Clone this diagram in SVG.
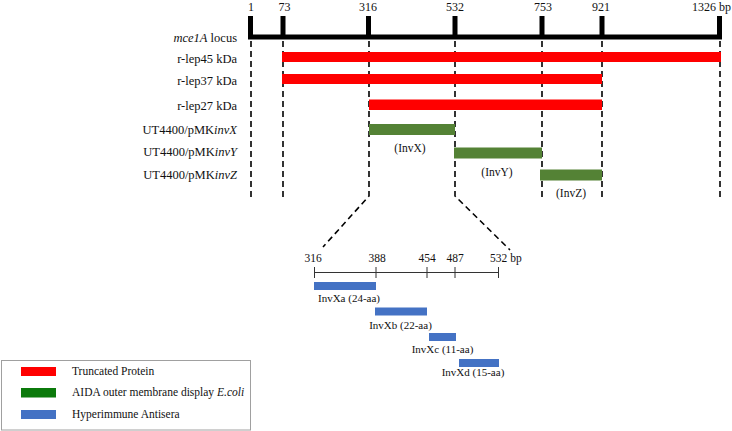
<svg xmlns="http://www.w3.org/2000/svg" width="732" height="431" viewBox="0 0 732 431">
<style>
text{font-family:"Liberation Serif","Times New Roman",serif;fill:#111}
.lbl{font-size:12.5px;text-anchor:end}
.num{font-size:12px;text-anchor:middle}
.sm{font-size:11.5px;text-anchor:middle}
.aa{font-size:11px;text-anchor:middle}
.leg{font-size:11.5px}
.red{fill:#ff0000}
.grn{fill:#548235}
.blu{fill:#4472c4}
.dash{stroke:#000;stroke-width:1.6;stroke-dasharray:6,4;fill:none}
.tick{fill:#000}
.thin{stroke:#333;stroke-width:1;fill:none}
</style>
<rect width="732" height="431" fill="#fff"/>

<g id="locus">
  <rect class="tick" x="248" y="34.5" width="474" height="5"/>
  <rect class="tick" x="248" y="16" width="5" height="22"/>
  <rect class="tick" x="280.5" y="16" width="5" height="22"/>
  <rect class="tick" x="366" y="16" width="5" height="22"/>
  <rect class="tick" x="452.5" y="16" width="5" height="22"/>
  <rect class="tick" x="539.5" y="16" width="5" height="22"/>
  <rect class="tick" x="599.5" y="16" width="5" height="22"/>
  <rect class="tick" x="717" y="16" width="5" height="22"/>
  <text class="num" x="251" y="11">1</text>
  <text class="num" x="284.5" y="11">73</text>
  <text class="num" x="368" y="11">316</text>
  <text class="num" x="455" y="11">532</text>
  <text class="num" x="543" y="11">753</text>
  <text class="num" x="601" y="11">921</text>
  <text x="731" y="11" style="font-size:12px;text-anchor:end">1326 bp</text>
  <text class="lbl" x="237" y="41.5"><tspan font-style="italic">mce1A</tspan> locus</text>
</g>

<g id="connectors">
  <path class="dash" d="M251,41 V197"/>
  <path class="dash" d="M283,41 V197"/>
  <path class="dash" d="M369,41 V196 L323,247"/>
  <path class="dash" d="M455,41 V196 L510,250"/>
  <path class="dash" d="M542,41 V197"/>
  <path class="dash" d="M602,41 V197"/>
  <path class="dash" d="M720,41 V197"/>
</g>

<g id="rlep45">
  <rect class="red" x="282" y="52" width="439" height="10"/>
  <text class="lbl" x="237" y="62.5">r-lep45 kDa</text>
</g>
<g id="rlep37">
  <rect class="red" x="282" y="74" width="320" height="10"/>
  <text class="lbl" x="237" y="84.5">r-lep37 kDa</text>
</g>
<g id="rlep27">
  <rect class="red" x="369" y="99.5" width="233" height="10.5"/>
  <text class="lbl" x="237" y="110">r-lep27 kDa</text>
</g>
<g id="invX">
  <rect class="grn" x="369" y="124" width="86" height="11"/>
  <text class="lbl" x="237" y="133.5">UT4400/pMK<tspan font-style="italic">invX</tspan></text>
  <text class="sm" x="410" y="152">(InvX)</text>
</g>
<g id="invY">
  <rect class="grn" x="454" y="147.5" width="88" height="11"/>
  <text class="lbl" x="237" y="156">UT4400/pMK<tspan font-style="italic">invY</tspan></text>
  <text class="sm" x="497" y="176">(InvY)</text>
</g>
<g id="invZ">
  <rect class="grn" x="540" y="169.5" width="62" height="11"/>
  <text class="lbl" x="237" y="178.5">UT4400/pMK<tspan font-style="italic">invZ</tspan></text>
  <text class="sm" x="571" y="197">(InvZ)</text>
</g>

<g id="invX-scale">
  <path class="thin" d="M314.5,272.5 H498.5 M314.5,267 V278 M376,267 V278 M427,267 V278 M455,267 V278 M498.5,267 V278"/>
  <text class="sm" x="313" y="262">316</text>
  <text class="sm" x="377" y="262">388</text>
  <text class="sm" x="427" y="262">454</text>
  <text class="sm" x="455" y="262">487</text>
  <text x="490" y="262" style="font-size:11.5px">532 bp</text>
</g>
<g id="invXa">
  <rect class="blu" x="314" y="282" width="62" height="8"/>
  <text class="aa" x="349" y="302">InvXa (24-aa)</text>
</g>
<g id="invXb">
  <rect class="blu" x="375" y="307.5" width="52" height="8"/>
  <text class="aa" x="400.5" y="329">InvXb (22-aa)</text>
</g>
<g id="invXc">
  <rect class="blu" x="429" y="333" width="27" height="8"/>
  <text class="aa" x="442.5" y="352.5">InvXc (11-aa)</text>
</g>
<g id="invXd">
  <rect class="blu" x="459" y="359" width="40" height="8"/>
  <text class="aa" x="473" y="376">InvXd (15-aa)</text>
</g>

<g id="legend">
  <rect x="1.5" y="360.5" width="249" height="69.5" fill="#fff" stroke="#a0a0a0" stroke-width="1"/>
  <rect x="21" y="367" width="35" height="9" fill="#ff0000"/>
  <rect x="21" y="388" width="35" height="9.5" fill="#0b7a0b"/>
  <rect x="21" y="410" width="35" height="9" fill="#4472c4"/>
  <text class="leg" x="72" y="374.5">Truncated Protein</text>
  <text class="leg" x="72" y="395.5">AIDA outer membrane display <tspan font-style="italic">E.coli</tspan></text>
  <text class="leg" x="72" y="418">Hyperimmune Antisera</text>
</g>
</svg>
